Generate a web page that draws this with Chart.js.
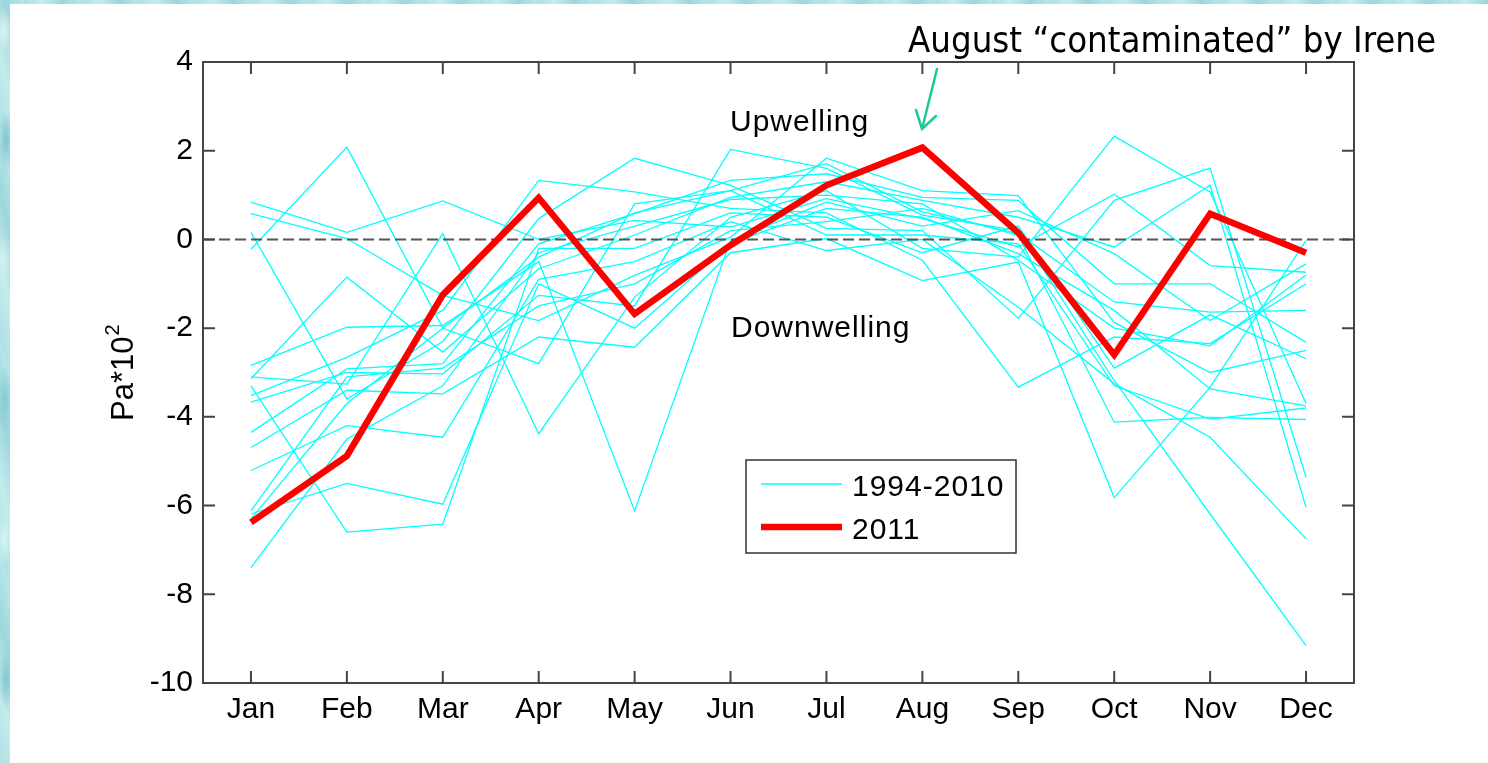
<!DOCTYPE html>
<html>
<head>
<meta charset="utf-8">
<script src="https://cdn.jsdelivr.net/npm/chart.js@4.4.0/dist/chart.umd.min.js"></script>
<style>
    body {
        margin: 0;
        width: 1488px;
        height: 763px;
        overflow: hidden;
        background:
            radial-gradient(ellipse 9px 22px at 4px 30px, #d8f4f5 0%, transparent 100%),
            radial-gradient(ellipse 8px 30px at 6px 140px, #7fc6ce 0%, transparent 100%),
            radial-gradient(ellipse 9px 26px at 3px 260px, #d3f1f3 0%, transparent 100%),
            radial-gradient(ellipse 8px 34px at 5px 400px, #86cbd2 0%, transparent 100%),
            radial-gradient(ellipse 9px 26px at 4px 540px, #d6f3f4 0%, transparent 100%),
            radial-gradient(ellipse 8px 30px at 6px 680px, #82c8cf 0%, transparent 100%),
            repeating-linear-gradient(75deg, #aee0e4 0px, #c4ecee 18px, #9dd6dc 37px, #b6e6e9 55px),
            #aee0e4;
    }
    canvas { display: block; }
</style>
</head>
<body>
<canvas id="grafico" width="1488" height="763"></canvas>
<script>
const months = ['Jan', 'Feb', 'Mar', 'Apr', 'May', 'Jun', 'Jul', 'Aug', 'Sep', 'Oct', 'Nov', 'Dec'];
const y_ticks = [4, 2, 0, -2, -4, -6, -8, -10];

// 2011 (red)
const stress_2011 = [-6.38, -4.88, -1.25, 0.94, -1.68, -0.13, 1.22, 2.07, 0.15, -2.6, 0.58, -0.3];

// 1994-2010 (cyan), one array per year
const past_01 = [-0.22, 2.08, -2.0, -0.4, 0.6, 1.1, 1.71, 0.62, 0.13, -1.41, -1.64, -1.6];
const past_02 = [0.84, 0.16, 0.87, 0.0, 0.43, 0.28, 0.92, 0.47, -0.17, 1.02, -0.59, -0.74];
const past_03 = [0.58, 0.02, -1.26, -1.83, -0.81, 0.05, 1.83, 1.1, 0.99, -1.87, -3.0, -2.5];
const past_04 = [0.16, -3.6, -2.3, 0.47, 1.83, 1.22, 0.25, 0.2, -1.78, 0.88, 1.61, -5.36];
const past_05 = [-3.14, -0.85, -2.54, -0.66, 0.1, 0.95, 1.3, 0.88, 0.5, -0.17, 1.22, -6.04];
const past_06 = [-2.84, -1.98, -1.94, -0.5, -6.12, -0.02, 0.84, 0.3, 0.65, -0.32, -1.83, -0.55];
const past_07 = [-3.1, -3.26, 0.13, -4.38, -1.3, 0.5, 1.1, -0.2, -0.4, 2.33, 1.07, -3.7];
const past_08 = [-3.52, -2.66, -1.6, 1.33, 1.07, 0.7, 0.6, -0.47, -3.33, -2.2, -2.35, -1.0];
const past_09 = [-3.67, -3.0, -3.03, -1.26, -1.5, 2.03, 1.6, 0.55, 0.2, -3.18, -6.19, -9.16];
const past_10 = [-4.35, -2.92, -2.8, -0.1, 0.58, 1.33, 1.48, 0.95, 0.88, -1.0, -1.0, -2.32];
const past_11 = [-4.69, -3.4, -3.48, -2.2, -2.43, -0.3, 0.02, -0.93, -0.51, -5.82, -3.33, -0.02];
const past_12 = [-5.21, -4.2, -4.46, -0.9, -0.5, 0.4, -0.25, 0.0, -1.53, -3.25, -4.46, -6.75];
const past_13 = [-6.12, -3.1, -2.9, -1.5, -1.0, 0.2, 0.4, 0.7, 0.09, -4.12, -4.01, -4.06];
const past_14 = [-6.19, -5.5, -5.97, -1.0, -2.0, -0.1, 0.7, 0.5, -0.32, -1.6, -3.37, -3.75];
const past_15 = [-7.4, -4.5, -3.3, -0.3, 0.3, 0.9, 1.0, 0.8, -0.47, -2.0, -2.4, -0.8];
const past_16 = [-3.3, -6.6, -6.42, -0.2, -0.2, 0.6, 0.5, -0.3, 0.3, -2.9, -1.7, -2.69];
const past_17 = [-6.3, -3.7, -2.0, -2.8, 0.8, 1.1, 0.1, 0.1, -0.1, -3.3, -4.05, -3.8];

const past_years = [past_01, past_02, past_03, past_04, past_05, past_06, past_07, past_08, past_09,
    past_10, past_11, past_12, past_13, past_14, past_15, past_16, past_17];

const font_axis = '"Liberation Sans", Arial, sans-serif';

/* DATASETS: index 0 is drawn last (on top) */

const datasets = [{
    label: '2011',
    data: stress_2011,
    borderColor: '#ff0000',
    borderWidth: 6.5,
    pointRadius: 0,
    tension: 0
}];

past_years.forEach(function (serie) {
    datasets.push({
        label: '1994-2010',
        data: serie,
        borderColor: '#00ffff',
        borderWidth: 1.3,
        pointRadius: 0,
        tension: 0
    });
});

/* DECORATION: box, inward ticks, zero line, legend and notes */

const decoracao = {
    id: 'decoracao',
    beforeDraw(chart) {
        const ctx = chart.ctx;
        ctx.save();
        ctx.fillStyle = '#ffffff';
        ctx.fillRect(10, 4, chart.width - 10, chart.height - 4);
        ctx.restore();
    },
    afterDatasetDraw(chart, args) {
        // dashed zero line sits between the cyan lines and the red one
        if (args.index !== 1) return;
        const ctx = chart.ctx;
        const area = chart.chartArea;
        const y0 = chart.scales.y.getPixelForValue(0);
        ctx.save();
        ctx.strokeStyle = '#555555';
        ctx.lineWidth = 2;
        ctx.setLineDash([11, 5]);
        ctx.beginPath();
        ctx.moveTo(area.left, y0);
        ctx.lineTo(area.right, y0);
        ctx.stroke();
        ctx.restore();
    },
    afterDraw(chart) {
        const ctx = chart.ctx;
        const area = chart.chartArea;
        const xs = chart.scales.x;
        const ys = chart.scales.y;
        const tick_len = 12;

        ctx.save();
        ctx.strokeStyle = '#444444';
        ctx.lineWidth = 2;
        ctx.strokeRect(area.left, area.top, area.right - area.left, area.bottom - area.top);

        ctx.beginPath();
        for (let i = 0; i < xs.ticks.length; i++) {
            const px = xs.getPixelForTick(i);
            ctx.moveTo(px, area.bottom);
            ctx.lineTo(px, area.bottom - tick_len);
            ctx.moveTo(px, area.top);
            ctx.lineTo(px, area.top + tick_len);
        }
        for (let i = 0; i < ys.ticks.length; i++) {
            const py = ys.getPixelForTick(i);
            ctx.moveTo(area.left, py);
            ctx.lineTo(area.left + tick_len, py);
            ctx.moveTo(area.right, py);
            ctx.lineTo(area.right - tick_len, py);
        }
        ctx.stroke();

        // y title
        ctx.fillStyle = '#000000';
        ctx.save();
        ctx.translate(133, 421);
        ctx.rotate(-Math.PI / 2);
        ctx.textAlign = 'left';
        ctx.textBaseline = 'alphabetic';
        ctx.font = '31px ' + font_axis;
        ctx.fillText('Pa*10', 0, 0);
        const w_base = ctx.measureText('Pa*10').width;
        ctx.font = '20px ' + font_axis;
        ctx.fillText('2', w_base + 1, -14);
        ctx.restore();

        // Upwelling / Downwelling
        ctx.font = '30px ' + font_axis;
        ctx.letterSpacing = '1px';
        ctx.textAlign = 'left';
        ctx.textBaseline = 'alphabetic';
        ctx.fillText('Upwelling', 730, 131);
        ctx.fillText('Downwelling', 731, 337);

        // legend
        ctx.letterSpacing = '0px';
        ctx.fillStyle = '#ffffff';
        ctx.fillRect(746, 460, 270, 93);
        ctx.strokeStyle = '#333333';
        ctx.lineWidth = 1.5;
        ctx.strokeRect(746, 460, 270, 93);
        ctx.lineWidth = 1.3;
        ctx.strokeStyle = '#00ffff';
        ctx.beginPath();
        ctx.moveTo(761, 484);
        ctx.lineTo(842, 484);
        ctx.stroke();
        ctx.lineWidth = 6.5;
        ctx.strokeStyle = '#ff0000';
        ctx.beginPath();
        ctx.moveTo(761, 527);
        ctx.lineTo(842, 527);
        ctx.stroke();
        ctx.fillStyle = '#000000';
        ctx.font = '30px ' + font_axis;
        ctx.letterSpacing = '1px';
        ctx.fillText('1994-2010', 852, 496);
        ctx.fillText('2011', 852, 539);
        ctx.letterSpacing = '0px';

        // note on August
        const note = 'August \u201Ccontaminated\u201D by Irene';
        ctx.font = '36px "DejaVu Sans Condensed", "DejaVu Sans", sans-serif';
        const w_note = ctx.measureText(note).width;
        ctx.save();
        ctx.translate(908, 52);
        ctx.scale(528 / w_note, 1);
        ctx.fillText(note, 0, 0);
        ctx.restore();

        // arrow
        ctx.strokeStyle = '#1cc897';
        ctx.lineWidth = 2.5;
        ctx.lineCap = 'round';
        ctx.beginPath();
        ctx.moveTo(937, 69);
        ctx.lineTo(922, 129);
        ctx.moveTo(916, 110);
        ctx.lineTo(922, 129);
        ctx.lineTo(936, 116);
        ctx.stroke();

        ctx.restore();
    }
};

const config_grafico = {
    type: 'line',
    data: {
        labels: months,
        datasets: datasets
    },
    options: {
        responsive: false,
        devicePixelRatio: 1,
        animation: false,
        layout: {
            padding: { left: 0, top: 62, right: 134, bottom: 0 }
        },
        scales: {
            x: {
                type: 'category',
                offset: true,
                grid: { display: false, drawTicks: false },
                border: { display: false },
                afterFit: function (scale) { scale.height = 80; },
                ticks: {
                    padding: 9,
                    color: '#000000',
                    maxRotation: 0,
                    font: { size: 30, family: font_axis }
                }
            },
            y: {
                min: -10,
                max: 4,
                grid: { display: false, drawTicks: false },
                border: { display: false },
                afterFit: function (scale) { scale.width = 203; },
                afterBuildTicks: function (scale) {
                    scale.ticks = y_ticks.map(v => ({ value: v }));
                },
                ticks: {
                    padding: 10,
                    color: '#000000',
                    font: { size: 30, family: font_axis }
                }
            }
        },
        plugins: {
            legend: { display: false },
            tooltip: { enabled: false },
            title: { display: false }
        }
    },
    plugins: [decoracao]
};

const grafico = new Chart(document.getElementById('grafico'), config_grafico);
</script>
</body>
</html>
